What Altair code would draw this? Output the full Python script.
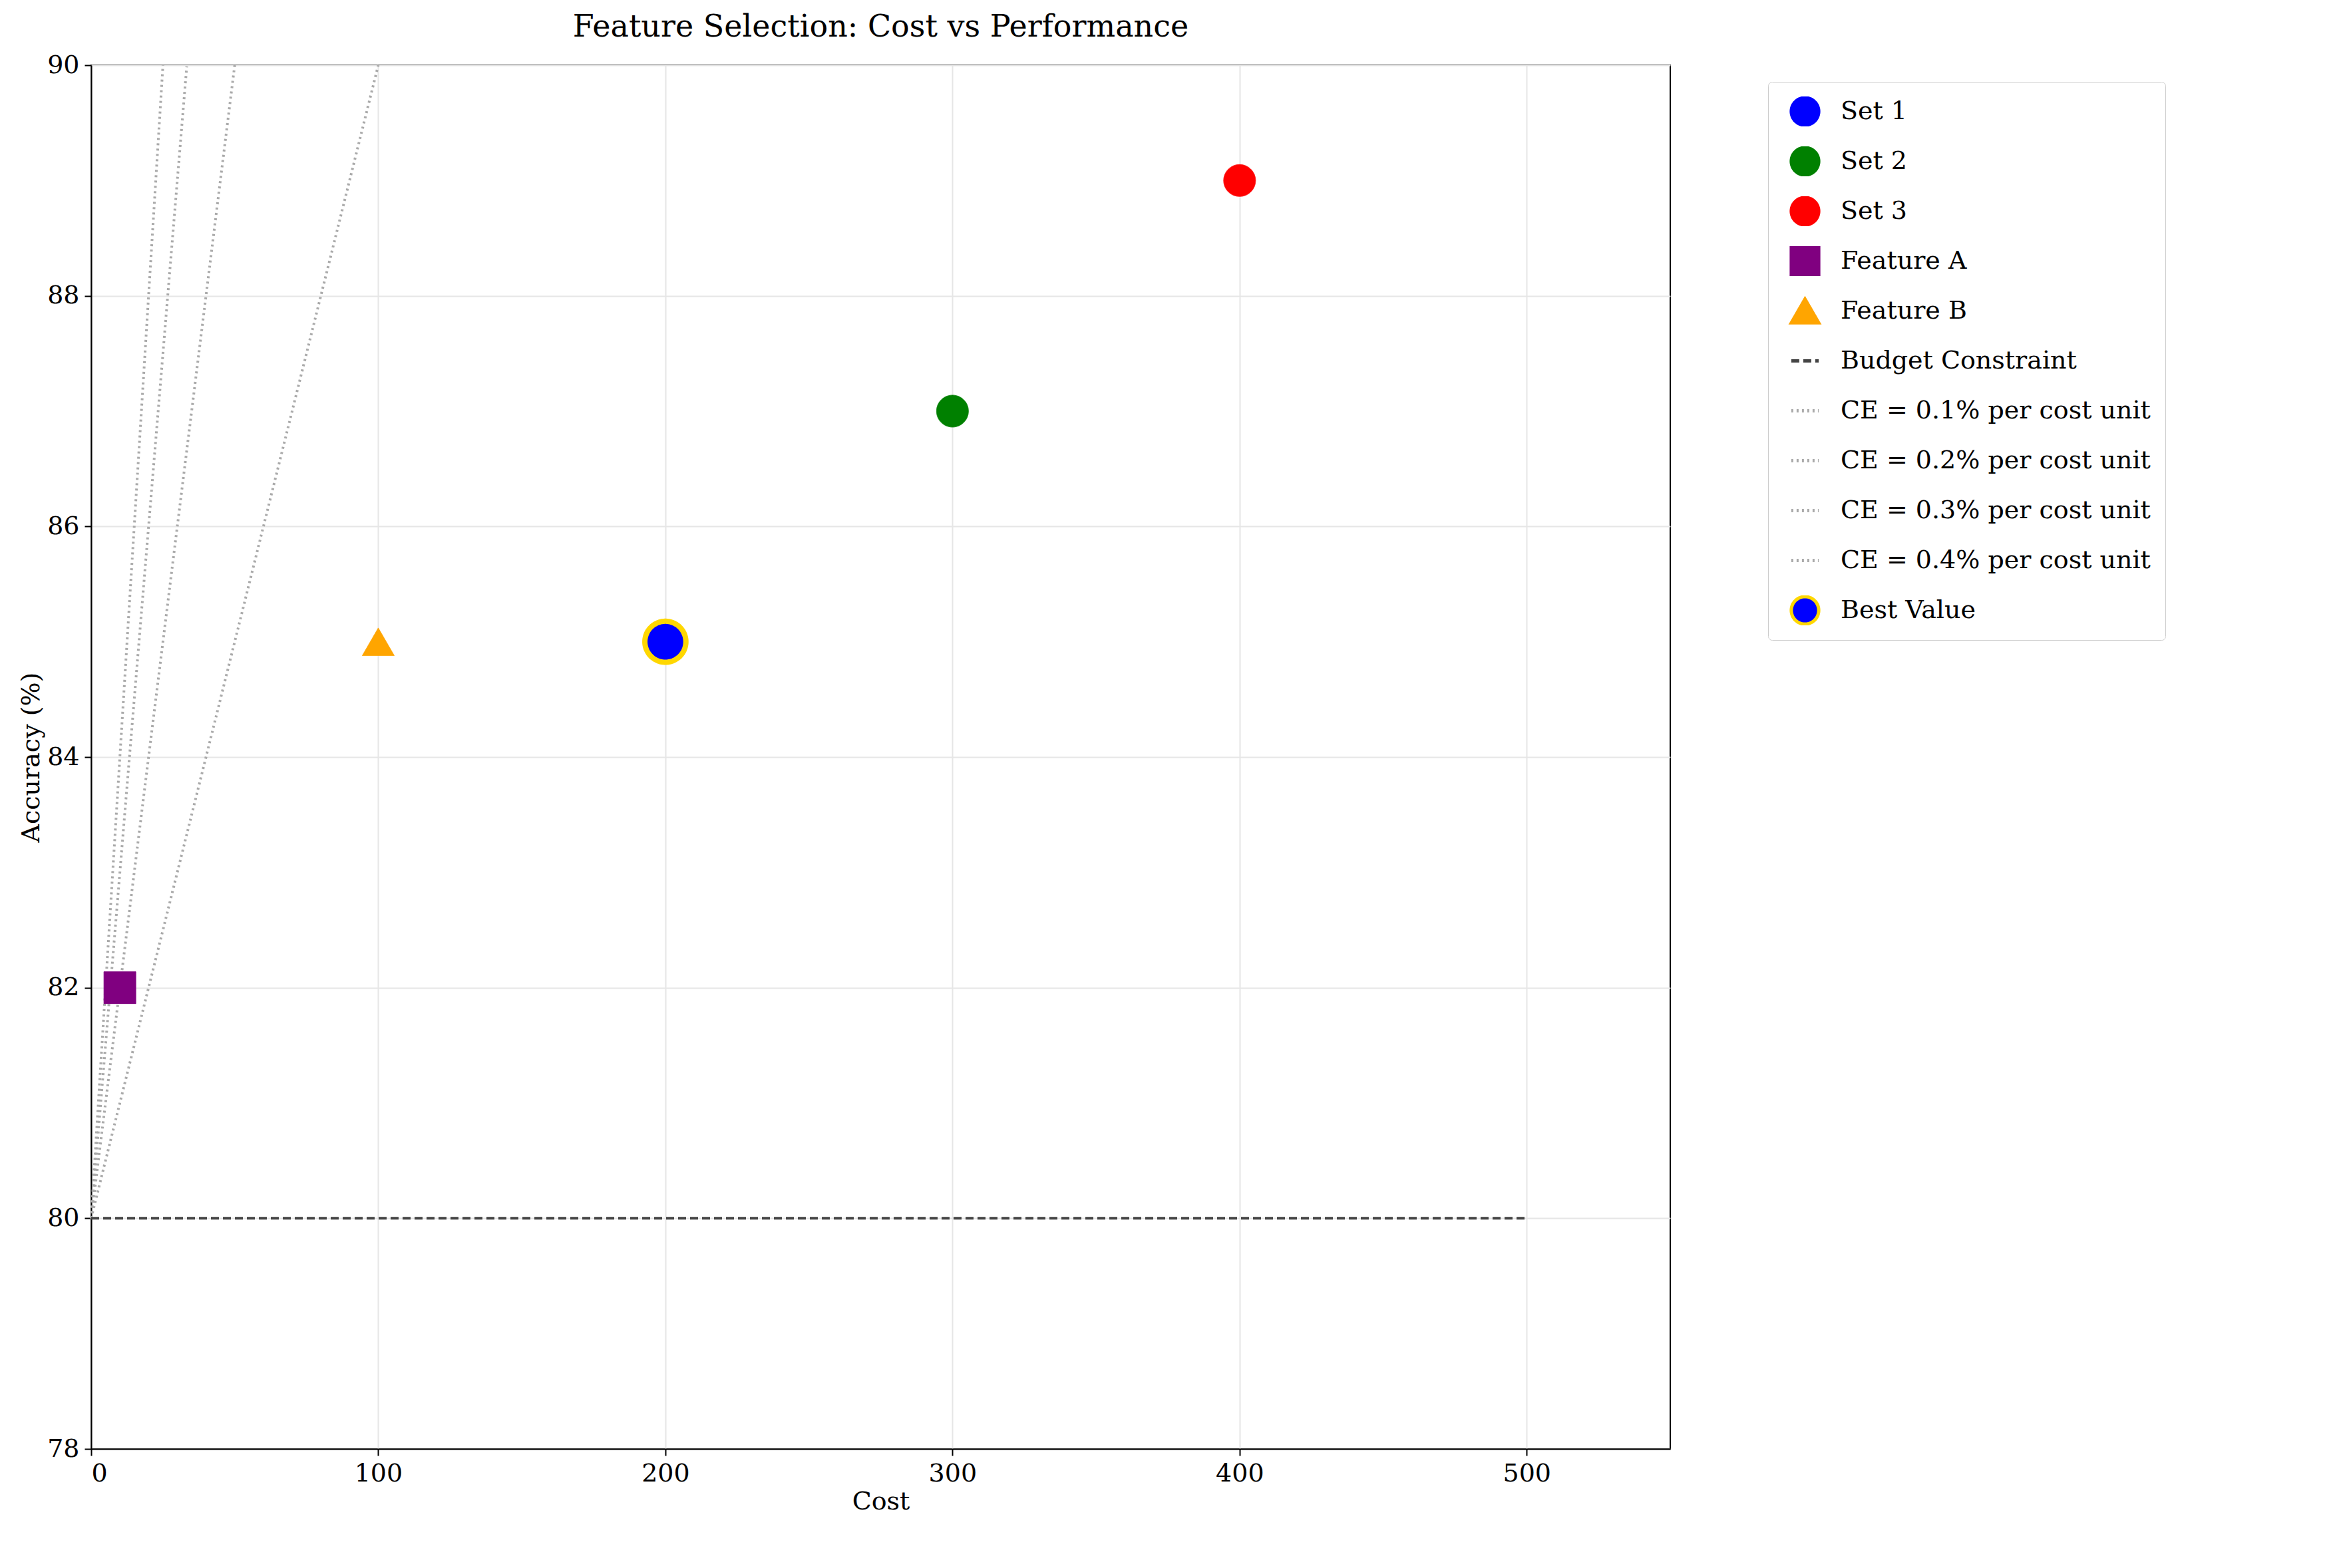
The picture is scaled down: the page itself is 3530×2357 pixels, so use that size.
import altair as alt
import pandas as pd

labels = ["Set 1", "Set 2", "Set 3", "Feature A", "Feature B", "Budget Constraint",
          "CE = 0.1% per cost unit", "CE = 0.2% per cost unit", "CE = 0.3% per cost unit",
          "CE = 0.4% per cost unit", "Best Value"]
fills = ["blue", "green", "red", "purple", "orange", "transparent", "transparent",
         "transparent", "transparent", "transparent", "blue"]
strokes = ["blue", "green", "red", "purple", "orange", "#444444", "#aaaaaa", "#aaaaaa",
           "#aaaaaa", "#aaaaaa", "gold"]
shapes = ["circle", "circle", "circle", "square", "triangle-up", "stroke", "stroke",
          "stroke", "stroke", "stroke", "circle"]
dashes = [[1, 0]] * 5 + [[12, 6]] + [[3, 5]] * 4 + [[1, 0]]

pt_labels = ["Set 1", "Set 2", "Set 3", "Feature A", "Feature B", "Best Value"]
pt_cost = [200, 300, 400, 10, 100, 200]
pt_acc = [85, 87, 89, 82, 85, 85]

ce_vals = [0.1, 0.2, 0.3, 0.4]
ce_end_x = [100, 50, 33.3, 25]
budget = 80
budget_x = [0, 500]

font = "DejaVu Serif"
pts = pd.DataFrame({"label": pt_labels, "x": pt_cost, "y": pt_acc})
xs = alt.Scale(domain=[0, 550], nice=False)
ys = alt.Scale(domain=[78, 90], nice=False)

leg = alt.Legend(title=None, orient="none", legendX=2520, legendY=25, labelFont=font,
                 labelFontSize=38, symbolSize=1700, symbolStrokeWidth=5, rowPadding=30,
                 clipHeight=45, labelOffset=30, symbolOffset=10,
                 strokeColor="#cccccc", padding=22, cornerRadius=6, fillColor="white",
                 labelLimit=900, symbolType="circle")

points = alt.Chart(pts).mark_point(filled=True, opacity=1).encode(
    x=alt.X("x:Q", scale=xs, title="Cost", axis=alt.Axis(values=[0, 100, 200, 300, 400, 500])),
    y=alt.Y("y:Q", scale=ys, title="Accuracy (%)",
            axis=alt.Axis(values=list(range(78, 91, 2)), format="d")),
    fill=alt.Fill("label:N", scale=alt.Scale(domain=labels, range=fills), legend=leg),
    stroke=alt.Stroke("label:N", scale=alt.Scale(domain=labels, range=strokes), legend=leg),
    shape=alt.Shape("label:N", scale=alt.Scale(domain=labels, range=shapes), legend=leg),
    strokeDash=alt.StrokeDash("label:N", scale=alt.Scale(domain=labels, range=dashes), legend=leg),
    size=alt.condition("datum.label == 'Best Value'", alt.value(3800), alt.value(2300)),
    strokeWidth=alt.condition("datum.label == 'Best Value'", alt.value(8), alt.value(1)),
)

ce_rows = []
for c, xe in zip(ce_vals, ce_end_x):
    ce_rows.append({"ce": c, "x": 0, "y": budget})
    ce_rows.append({"ce": c, "x": xe, "y": budget + c * xe})
ce_df = pd.DataFrame(ce_rows)
ce_lines = alt.Chart(ce_df).mark_line(strokeDash=[3, 5], strokeWidth=4, color="#aaaaaa").encode(
    x=alt.X("x:Q", scale=xs), y=alt.Y("y:Q", scale=ys), detail="ce:N")

bdf = pd.DataFrame({"x": budget_x, "y": [budget, budget]})
bline = alt.Chart(bdf).mark_line(strokeDash=[12, 6], strokeWidth=4, color="#444444").encode(
    x=alt.X("x:Q", scale=xs), y=alt.Y("y:Q", scale=ys))

chart = alt.layer(ce_lines, bline, points).properties(
    width=2373, height=2080,
    title=alt.TitleParams("Feature Selection: Cost vs Performance", font=font, fontSize=46,
                          fontWeight="normal", color="black", offset=14),
    padding={"left": 20, "top": 10, "right": 20, "bottom": 20},
).configure_axis(
    labelFont=font, titleFont=font, labelFontSize=38, titleFontSize=38, titleFontWeight="normal",
    labelColor="black", titleColor="black", domainColor="black", tickColor="black",
    tickSize=10, tickWidth=2, domainWidth=2, gridColor="#e6e6e6", gridWidth=2, labelPadding=8,
).configure_view(stroke="black", strokeWidth=2)

chart.save("out.html", embed_options={"renderer": "svg", "actions": False})
